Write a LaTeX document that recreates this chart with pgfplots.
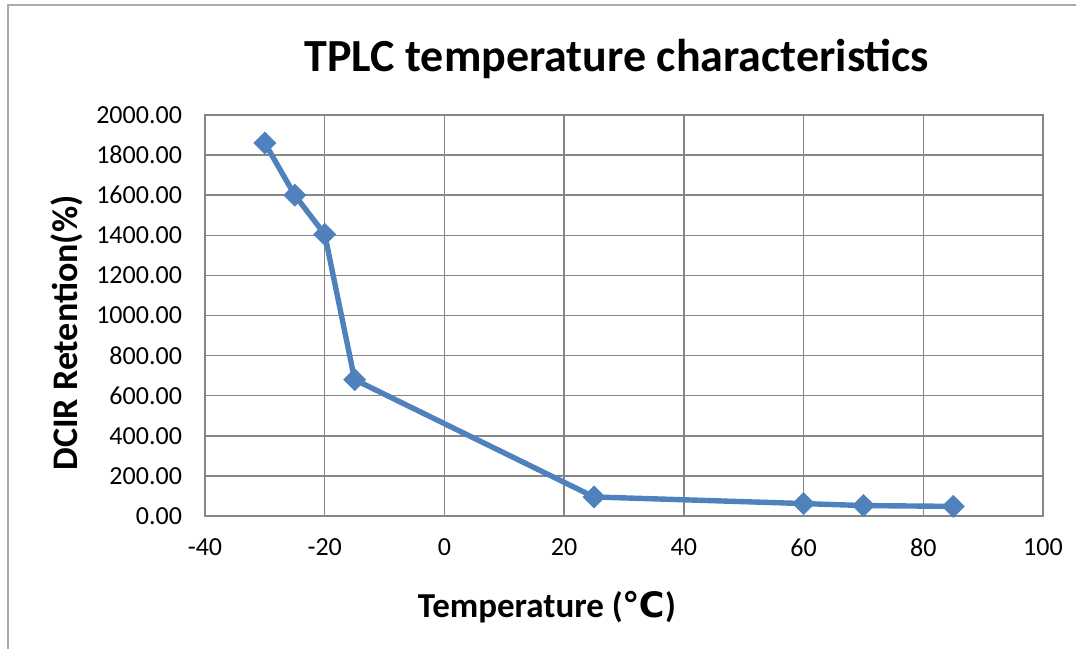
\documentclass[border=0pt]{standalone}
\usepackage{pgfplots}
\pgfplotsset{compat=1.18}
\usepackage{fontspec}
\setmainfont{Carlito}
\newfontfamily\symfont{DejaVu Sans}
\definecolor{xlblue}{HTML}{4F81BD}
\definecolor{xlgrid}{HTML}{868686}
\definecolor{xlframe}{HTML}{ABABAB}
\begin{document}
\begin{tikzpicture}[x=0.5pt,y=0.5pt]
  \useasboundingbox (0,0) rectangle (1076,648);
  % outer chart frame (runs off the right and bottom)
  \draw[xlframe, line width=1.2pt] (8,-20) -- (8,643) -- (1100,643);
  \begin{axis}[
    at={(102.5pt,66pt)}, anchor=south west,
    scale only axis,
    width=419pt, height=200.5pt,
    xmin=-40, xmax=100, ymin=0, ymax=2000,
    xtick={-40,-20,...,100},
    ytick={0,200,...,2000},
    grid=major,
    major grid style={xlgrid, line width=0.75pt},
    axis line style={xlgrid, line width=0.75pt},
    major tick length=0pt,
    tick label style={font=\fontsize{13}{15}\selectfont},
    /pgf/number format/assume math mode=true,
    yticklabel={\pgfmathprintnumber[fixed,fixed zerofill,precision=2,1000 sep={}]{\tick}},
    yticklabel style={xshift=-8pt},
    xticklabel style={yshift=-8pt},
    clip=false,
  ]
    \addplot[xlblue, line width=2.7pt, mark=square*, mark size=3.9pt,
      mark options={fill=xlblue, draw=xlblue, line width=0.3pt, rotate=45}]
      coordinates {(-30,1860) (-25,1600) (-20,1405) (-15,680) (25,95) (60,62) (70,52) (85,48)};
  \end{axis}
  \node[anchor=base, font=\fontsize{23}{28}\selectfont\bfseries] at (617,576) {TPLC temperature characteristics};
  \node[anchor=base, font=\fontsize{17.5}{21}\selectfont\bfseries] at (547,31) {Temperature ({\symfont ℃})};
  \node[rotate=90, font=\fontsize{18}{22}\selectfont\bfseries] at (67,315) {DCIR Retention(\%)};
\end{tikzpicture}
\end{document}
